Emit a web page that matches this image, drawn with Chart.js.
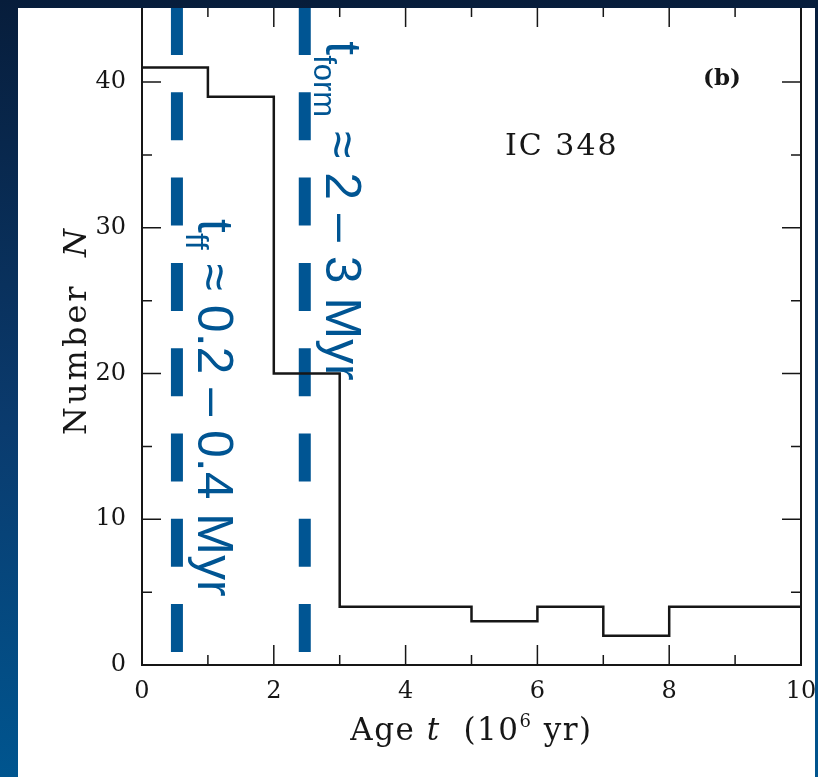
<!DOCTYPE html>
<html>
<head>
<meta charset="utf-8">
<script src="https://cdn.jsdelivr.net/npm/chart.js@4.4.1/dist/chart.umd.min.js"></script>
<style>
  html, body { margin: 0; padding: 0; }
  body {
    width: 818px; height: 777px; overflow: hidden; position: relative;
    background: linear-gradient(to bottom, #071d3b 0%, #0a3b6e 55%, #00558f 100%);
  }
  #panel {
    position: absolute; left: 18px; top: 8px; width: 797px; height: 769px;
    background: #fff; overflow: hidden;
  }
  #chart { position: absolute; left: -18px; top: -8px; }
</style>
</head>
<body>
<div id="panel"><canvas id="chart" width="818" height="777"></canvas></div>
<script>
// bin edges (Myr) and star counts per bin for IC 348
const ageEdges = [0, 1, 2, 3, 4, 5, 6, 7, 8, 9, 10];
const starCounts = [41, 39, 20, 4, 4, 3, 4, 2, 4, 4];

const xTicks = [0, 2, 4, 6, 8, 10];
const yTicks = [0, 10, 20, 30, 40];
const xMinorTicks = [1, 3, 5, 7, 9];
const yMinorTicks = [5, 15, 25, 35];

// dashed time-scale markers
const markerAges = [0.53, 2.47];
const markerSpan = [45.15, 0.85];

const INK = '#161616';
const BLUE = '#005593';
const SERIF = "'DejaVu Serif', serif";
const SANS = "'Liberation Sans', Arial, sans-serif";

const histPoints = ageEdges.map((e, i) => ({ x: e, y: starCounts[Math.min(i, starCounts.length - 1)] }));

const markerSets = markerAges.map(a => ({
    data: markerSpan.map(v => ({ x: a, y: v })),
    borderColor: BLUE,
    borderWidth: 12,
    borderDash: [48, 37.3],
    borderCapStyle: 'butt',
    pointRadius: 0,
    fill: false
}));

// inward ticks on all four sides + frame
const frameTicks = {
    id: 'frameTicks',
    afterDatasetsDraw(chart) {
        const { ctx, chartArea: a, scales: { x, y } } = chart;
        ctx.save();
        ctx.strokeStyle = INK;
        ctx.lineWidth = 2;
        ctx.beginPath();
        ctx.moveTo(a.left, a.top); ctx.lineTo(a.right, a.top);
        ctx.lineTo(a.right, a.bottom); ctx.lineTo(a.left, a.bottom);
        ctx.lineTo(a.left, a.top);
        ctx.stroke();
        ctx.lineWidth = 1.5;
        ctx.beginPath();
        const tickX = (v, len) => {
            const px = x.getPixelForValue(v);
            ctx.moveTo(px, a.bottom); ctx.lineTo(px, a.bottom - len);
            ctx.moveTo(px, a.top); ctx.lineTo(px, a.top + len);
        };
        const tickY = (v, len) => {
            const py = y.getPixelForValue(v);
            ctx.moveTo(a.left, py); ctx.lineTo(a.left + len, py);
            ctx.moveTo(a.right, py); ctx.lineTo(a.right - len, py);
        };
        xTicks.forEach(v => tickX(v, 20));
        xMinorTicks.forEach(v => tickX(v, 10));
        yTicks.forEach(v => tickY(v, 19));
        yMinorTicks.forEach(v => tickY(v, 10));
        ctx.stroke();
        ctx.restore();
    }
};

// draws a run of [text, font, dy] pieces from the current origin
function drawRun(ctx, pieces) {
    let cx = 0;
    pieces.forEach(([t, font, dy]) => {
        ctx.font = font;
        ctx.fillText(t, cx, dy || 0);
        cx += ctx.measureText(t).width;
    });
    return cx;
}
function runWidth(ctx, pieces) {
    let w = 0;
    pieces.forEach(([t, font]) => { ctx.font = font; w += ctx.measureText(t).width; });
    return w;
}

const labels = {
    id: 'labels',
    afterDraw(chart) {
        const { ctx, chartArea: a, scales: { x, y } } = chart;
        ctx.save();
        ctx.textBaseline = 'alphabetic';
        ctx.textAlign = 'left';

        // axis titles (serif, slightly tracked out)
        ctx.fillStyle = INK;
        ctx.letterSpacing = '1.5px';
        const xTitle = [
            ['Age ', `31px ${SERIF}`],
            ['t', `italic 31px ${SERIF}`],
            ['  (10', `31px ${SERIF}`],
            ['6', `18px ${SERIF}`, -13],
            [' yr)', `31px ${SERIF}`]
        ];
        const cxMid = (a.left + a.right) / 2;
        ctx.save();
        ctx.translate(cxMid - runWidth(ctx, xTitle) / 2, 740);
        drawRun(ctx, xTitle);
        ctx.restore();

        ctx.letterSpacing = '3px';
        const yTitle = [
            ['Number  ', `32px ${SERIF}`],
            ['N', `italic 32px ${SERIF}`]
        ];
        ctx.save();
        ctx.translate(86, 435);
        ctx.rotate(-Math.PI / 2);
        drawRun(ctx, yTitle);
        ctx.restore();

        // panel tags
        ctx.letterSpacing = '2px';
        ctx.font = `30px ${SERIF}`;
        ctx.fillText('IC 348', 505, 155);
        ctx.letterSpacing = '0px';
        ctx.font = `bold 23px ${SERIF}`;
        ctx.fillText('(b)', 703, 85);

        // timescale annotations beside the dashed markers
        ctx.fillStyle = BLUE;
        const notes = [
            { age: markerAges[1], start: 42.8, pieces: [
                ['t', `50px ${SANS}`], ['form', `31px ${SANS}`, 12], [' \u2248 2 \u2013 3 Myr', `50px ${SANS}`]
            ] },
            { age: markerAges[0], start: 30.6, pieces: [
                ['t', `50px ${SANS}`], ['ff', `31px ${SANS}`, 12], [' \u2248 0.2 \u2013 0.4 Myr', `50px ${SANS}`]
            ] }
        ];
        notes.forEach(n => {
            ctx.save();
            ctx.translate(x.getPixelForValue(n.age) + 21, y.getPixelForValue(n.start));
            ctx.rotate(Math.PI / 2);
            drawRun(ctx, n.pieces);
            ctx.restore();
        });
        ctx.restore();
    }
};

// keep the plot box fixed: no extra room reserved for edge labels
const noEdgePad = s => { s.paddingTop = 0; s.paddingBottom = 0; s.paddingLeft = 0; s.paddingRight = 0; };

new Chart(document.getElementById('chart'), {
    type: 'line',
    data: {
        datasets: [
            {
                data: histPoints,
                stepped: 'before',
                borderColor: INK,
                borderWidth: 2.5,
                pointRadius: 0,
                fill: false
            },
            ...markerSets
        ]
    },
    options: {
        responsive: false,
        animation: false,
        events: [],
        layout: { padding: { top: 7, right: 17, left: 0, bottom: 0 } },
        plugins: { legend: { display: false }, tooltip: { enabled: false } },
        scales: {
            x: {
                type: 'linear', min: 0, max: 10,
                afterBuildTicks: s => { s.ticks = xTicks.map(v => ({ value: v })); },
                afterFit: s => { s.height = 112; noEdgePad(s); },
                grid: { display: false, drawTicks: false },
                border: { display: false },
                ticks: { font: { family: SERIF, size: 24 }, color: INK, padding: 12, maxRotation: 0 }
            },
            y: {
                type: 'linear', min: 0, max: 45.15,
                afterBuildTicks: s => { s.ticks = yTicks.map(v => ({ value: v })); },
                afterFit: s => { s.width = 142; noEdgePad(s); },
                grid: { display: false, drawTicks: false },
                border: { display: false },
                ticks: { font: { family: SERIF, size: 24 }, color: INK, padding: 16 }
            }
        }
    },
    plugins: [frameTicks, labels]
});
</script>
</body>
</html>
